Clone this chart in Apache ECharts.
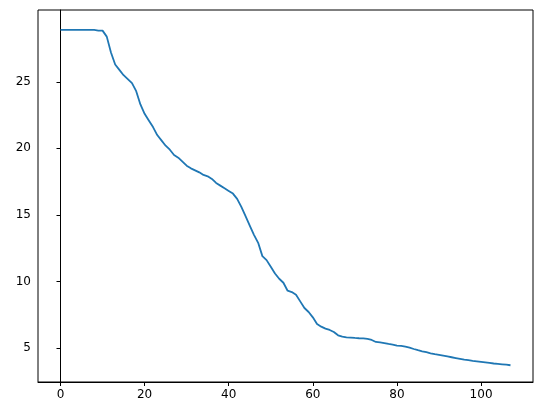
<!DOCTYPE html>
<html><head><meta charset="utf-8">
<script src="https://cdn.jsdelivr.net/npm/echarts@6/dist/echarts.min.js"></script>
<style>html,body{margin:0;padding:0;background:#fff}#c{width:543px;height:416px}</style>
</head><body><div id="c"></div>
<script>
const yValues = [28.9,28.9,28.9,28.9,28.9,28.9,28.9,28.9,28.9,28.85,28.85,28.4,27.2,26.3,25.9,25.5,25.2,24.9,24.3,23.3,
22.6,22.1,21.6,21.0,20.6,20.2,19.9,19.5,19.3,19.0,18.7,18.5,18.35,18.2,18.0,17.9,17.7,17.4,17.2,17.0,
16.8,16.6,16.2,15.6,14.9,14.2,13.5,12.9,11.9,11.6,11.1,10.6,10.2,9.9,9.3,9.2,9.0,8.5,8.0,7.7,
7.3,6.8,6.6,6.45,6.35,6.2,5.95,5.85,5.8,5.78,5.75,5.73,5.72,5.68,5.6,5.45,5.42,5.37,5.3,5.25,
5.18,5.15,5.1,5.02,4.92,4.83,4.75,4.68,4.6,4.53,4.48,4.42,4.36,4.3,4.24,4.18,4.12,4.08,4.03,3.99,
3.95,3.91,3.87,3.83,3.8,3.77,3.74,3.7];
const xTicks = [0,20,40,60,80,100];
const yTicks = [5,10,15,20,25];
const data = yValues.map((v,i)=>[i,v]);
const chart = echarts.init(document.getElementById('c'));
const ax = {show:true,lineStyle:{color:'#000',width:1}};
const lbl = {color:'#000',fontSize:12,fontFamily:'DejaVu Sans'};
chart.setOption({
  animation:false,
  grid:{left:38,right:10,top:10,bottom:34,show:true,borderColor:'#000',borderWidth:1},
  xAxis:{type:'value',min:-5.35,max:112.35,axisLine:ax,splitLine:{show:false},
    axisTick:{customValues:xTicks,length:4,inside:false,lineStyle:{color:'#000'}},
    axisLabel:Object.assign({customValues:xTicks,margin:7},lbl)},
  yAxis:{type:'value',min:2.44,max:30.4,axisLine:ax,splitLine:{show:false},
    axisTick:{customValues:yTicks,length:4,lineStyle:{color:'#000'}},
    axisLabel:Object.assign({customValues:yTicks,margin:7},lbl)},
  series:[{type:'line',data:data,showSymbol:false,lineStyle:{color:'#1f77b4',width:1.8}}]
});
</script></body></html>
